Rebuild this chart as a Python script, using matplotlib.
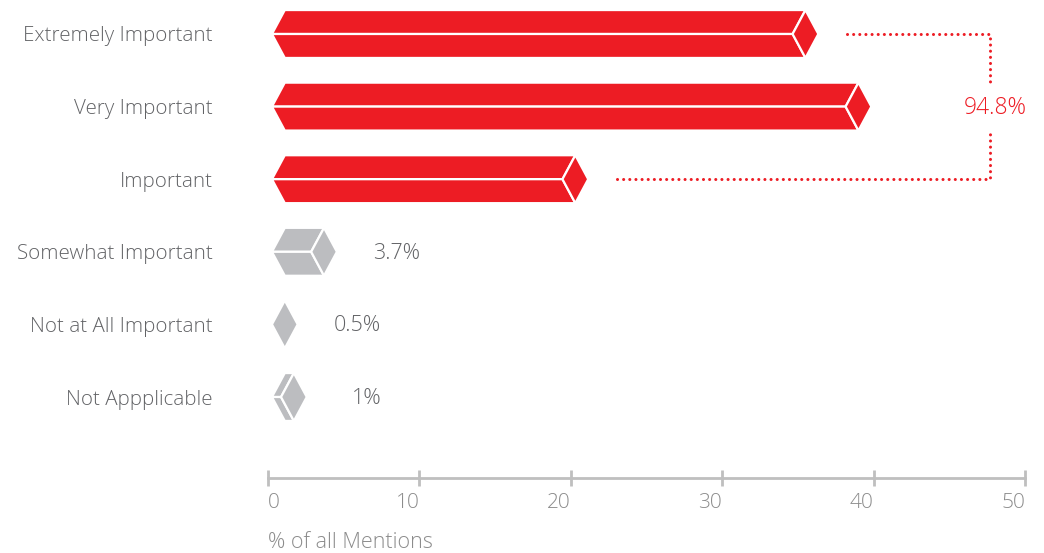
import numpy as np
import matplotlib.pyplot as plt
from matplotlib.patches import Polygon

# --- данные ---
CATEGORIES = ["Extremely Important", "Very Important", "Important",
              "Somewhat Important", "Not at All Important", "Not Appplicable"]
VALUES = [35.5, 39.0, 20.3, 3.7, 0.5, 1.0]
VALUE_LABELS = [None, None, None, "3.7%", "0.5%", "1%"]
TOP3_LABEL = "94.8%"
XTICKS = [0, 10, 20, 30, 40, 50]

RED = "#ED1C24"
GREY = "#BCBDC0"
TEXT = "#626366"
AXIS = "#BFBFBF"

plt.rcParams['font.family'] = ['Open Sans', 'DejaVu Sans']
plt.rcParams['font.weight'] = 'light'

W, H = 1044, 553
fig = plt.figure(figsize=(W / 100, H / 100), dpi=100)
# ось: 0..50 от 268 до 1025 px, низ оси на 478 px
ax = fig.add_axes([268 / W, (H - 478) / H, (1025 - 268) / W, 478 / H])
ax.set_xlim(0, 50)
row_px = 72.6
ax.set_ylim((478 - 34) / row_px, -34 / row_px)

# геометрия "призмы" в единицах данных
X0 = 0.26      # острие слева
D = 0.85       # полуширина ромба-торца
HH = 0.33      # полувысота
MIN_BODY = 0.6


def draw_prism(y, v, color):
    kw = dict(facecolor=color, edgecolor="white", linewidth=1.6, joinstyle="miter")
    if v < 1:
        # слишком мало для корпуса — только ромб
        xv = X0 + D
    else:
        xv = max(v, X0 + D + MIN_BODY)
        top = [(X0, y), (X0 + D, y - HH), (xv, y - HH), (xv - D, y)]
        bot = [(X0, y), (xv - D, y), (xv, y + HH), (X0 + D, y + HH)]
        ax.add_patch(Polygon(top, closed=True, **kw))
        ax.add_patch(Polygon(bot, closed=True, **kw))
    cap = [(xv - D, y), (xv, y - HH), (xv + D, y), (xv, y + HH)]
    ax.add_patch(Polygon(cap, closed=True, **kw))
    return xv + D


tips = []
for i, v in enumerate(VALUES):
    color = RED if i < 3 else GREY
    tips.append(draw_prism(i, v, color))
    if VALUE_LABELS[i]:
        ax.text(tips[-1] + 3.95, i + 0.02, VALUE_LABELS[i], color=TEXT, fontsize=15.5,
                ha="center", va="center")

# скобка для первых трёх
bx = 47.7
dot = dict(color=RED, linewidth=2.2, linestyle=(0, (0.01, 2.0)),
           dash_capstyle="round", clip_on=False)
ax.plot([tips[0] + 1.9, bx, bx], [0, 0, 0.66], **dot)
ax.plot([tips[2] + 1.9, bx, bx], [2, 2, 1.32], **dot)
ax.text(48.05, 1.02, TOP3_LABEL, color=RED, fontsize=16.5, ha="center",
        va="center", clip_on=False)

# оси
for s in ["top", "right", "left"]:
    ax.spines[s].set_visible(False)
ax.spines["bottom"].set_color(AXIS)
ax.spines["bottom"].set_linewidth(2)
ax.set_xticks(XTICKS)
ax.set_xticklabels([str(t) for t in XTICKS])
ax.tick_params(axis="x", direction="inout", length=11, width=2, color=AXIS,
               labelcolor="#8C8C8C", labelsize=15, pad=5)
for lbl, t in zip(ax.get_xticklabels(), XTICKS):
    lbl.set_horizontalalignment("left" if t == 0 else "right")

ax.set_yticks(range(len(CATEGORIES)))
ax.set_yticklabels(CATEGORIES)
ax.tick_params(axis="y", length=0, pad=40, labelcolor=TEXT, labelsize=14.8)
for lbl in ax.get_yticklabels():
    lbl.set_y(lbl.get_position()[1])
    lbl.set_verticalalignment("center_baseline")

fig.text(268 / W, 1 - 542 / H, "% of all Mentions", color="#8C8C8C",
         fontsize=15.5, ha="left", va="center")

fig.savefig("out.png", dpi=100)
